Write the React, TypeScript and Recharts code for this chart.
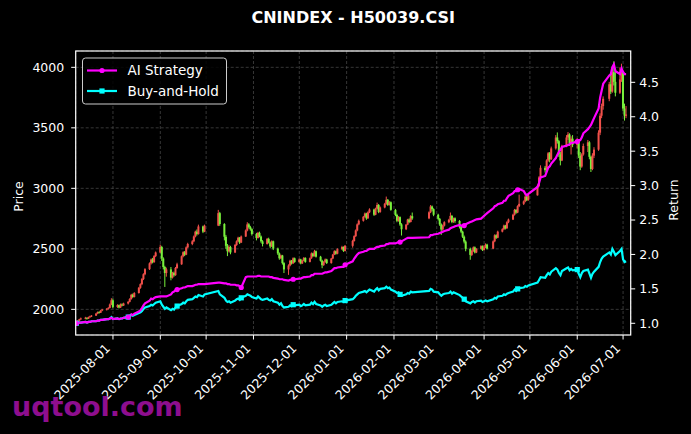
import React from 'react';
import { ComposedChart, Bar, Line, XAxis, YAxis, CartesianGrid } from 'recharts';

// one row per trading day: [day of month, open, high, low, close, AI strategy, buy-and-hold]
type Row = [number, number, number, number, number, number, number];

const jul25: Row[] = [
  [8, 1890, 1905, 1885, 1898, 1.0, 1.0], [9, 1898, 1912, 1893, 1905, 1.0, 1.0],
  [10, 1905, 1922, 1900, 1918, 1.01, 1.01], [11, 1918, 1932, 1912, 1925, 1.01, 1.01],
  [14, 1925, 1938, 1918, 1930, 1.02, 1.02], [15, 1930, 1934, 1915, 1922, 1.01, 1.01],
  [16, 1922, 1940, 1920, 1935, 1.02, 1.02], [17, 1935, 1948, 1930, 1942, 1.02, 1.02],
  [18, 1942, 1952, 1936, 1948, 1.03, 1.03], [21, 1948, 1970, 1945, 1965, 1.03, 1.03],
  [22, 1965, 1982, 1960, 1978, 1.04, 1.04], [23, 1978, 1985, 1965, 1972, 1.04, 1.04],
  [24, 1972, 1995, 1970, 1990, 1.05, 1.05], [25, 1990, 2004, 1985, 1998, 1.05, 1.05],
  [28, 1998, 2010, 1990, 2005, 1.06, 1.06], [29, 2005, 2018, 1998, 2012, 1.06, 1.06],
  [30, 2012, 2048, 2008, 2040, 1.07, 1.07], [31, 2040, 2092, 2035, 2075, 1.08, 1.09],
];
const aug25: Row[] = [
  [1, 2075, 2088, 2010, 2020, 1.06, 1.06], [4, 2020, 2042, 2012, 2035, 1.07, 1.07],
  [5, 2035, 2040, 2008, 2015, 1.06, 1.06], [6, 2015, 2048, 2012, 2040, 1.07, 1.07],
  [7, 2040, 2050, 2025, 2032, 1.07, 1.07], [8, 2032, 2055, 2028, 2048, 1.08, 1.08],
  [11, 2048, 2068, 2040, 2062, 1.09, 1.09], [12, 2062, 2092, 2058, 2085, 1.11, 1.1],
  [13, 2085, 2128, 2080, 2120, 1.13, 1.12], [14, 2120, 2130, 2095, 2102, 1.12, 1.11],
  [15, 2102, 2142, 2098, 2135, 1.14, 1.12], [18, 2135, 2185, 2130, 2178, 1.17, 1.15],
  [19, 2178, 2215, 2170, 2208, 1.19, 1.16], [20, 2208, 2258, 2200, 2250, 1.22, 1.18],
  [21, 2250, 2298, 2242, 2290, 1.26, 1.21], [22, 2290, 2340, 2282, 2332, 1.29, 1.23],
  [25, 2332, 2388, 2325, 2380, 1.33, 1.25], [26, 2380, 2420, 2370, 2412, 1.36, 1.27],
  [27, 2412, 2425, 2380, 2390, 1.35, 1.26], [28, 2390, 2448, 2385, 2440, 1.37, 1.28],
  [29, 2440, 2478, 2432, 2470, 1.38, 1.3],
];
const sep25: Row[] = [
  [1, 2470, 2535, 2465, 2515, 1.39, 1.32], [2, 2515, 2525, 2400, 2420, 1.39, 1.27],
  [3, 2420, 2430, 2330, 2350, 1.39, 1.24], [4, 2350, 2360, 2185, 2300, 1.39, 1.21],
  [5, 2300, 2345, 2270, 2330, 1.39, 1.23], [8, 2330, 2350, 2240, 2262, 1.42, 1.19],
  [9, 2262, 2310, 2255, 2302, 1.45, 1.21], [10, 2302, 2312, 2270, 2282, 1.46, 1.2],
  [11, 2282, 2350, 2278, 2342, 1.48, 1.23], [12, 2342, 2385, 2335, 2372, 1.49, 1.25],
  [15, 2372, 2445, 2368, 2438, 1.51, 1.28], [16, 2438, 2480, 2430, 2472, 1.52, 1.3],
  [17, 2472, 2482, 2440, 2452, 1.52, 1.29], [18, 2452, 2520, 2448, 2512, 1.53, 1.32],
  [19, 2512, 2550, 2505, 2540, 1.54, 1.34], [22, 2540, 2572, 2530, 2562, 1.54, 1.35],
  [23, 2562, 2610, 2555, 2602, 1.55, 1.37], [24, 2602, 2650, 2595, 2642, 1.56, 1.39],
  [25, 2642, 2660, 2610, 2622, 1.56, 1.38], [26, 2622, 2700, 2618, 2685, 1.57, 1.41],
  [29, 2685, 2692, 2630, 2642, 1.57, 1.39], [30, 2642, 2700, 2638, 2692, 1.57, 1.42],
];
const oct25: Row[] = [
  [9, 2692, 2822, 2688, 2795, 1.59, 1.47], [10, 2795, 2805, 2690, 2705, 1.59, 1.42],
  [13, 2705, 2712, 2570, 2600, 1.58, 1.37], [14, 2600, 2615, 2500, 2525, 1.58, 1.33],
  [15, 2525, 2540, 2440, 2480, 1.57, 1.31], [16, 2480, 2530, 2470, 2515, 1.57, 1.32],
  [17, 2515, 2525, 2455, 2470, 1.56, 1.3], [20, 2470, 2540, 2465, 2532, 1.56, 1.33],
  [21, 2532, 2570, 2525, 2562, 1.55, 1.35], [22, 2562, 2600, 2555, 2592, 1.55, 1.36],
  [23, 2592, 2598, 2540, 2552, 1.54, 1.34], [24, 2552, 2610, 2548, 2602, 1.52, 1.37],
  [27, 2602, 2660, 2598, 2652, 1.67, 1.4], [28, 2652, 2720, 2645, 2702, 1.68, 1.42],
  [29, 2702, 2712, 2668, 2680, 1.68, 1.41], [30, 2680, 2690, 2650, 2662, 1.68, 1.4],
  [31, 2662, 2670, 2610, 2622, 1.68, 1.38],
];
const nov25: Row[] = [
  [3, 2622, 2632, 2570, 2590, 1.68, 1.36], [4, 2590, 2640, 2585, 2632, 1.69, 1.39],
  [5, 2632, 2642, 2595, 2602, 1.69, 1.37], [6, 2602, 2610, 2550, 2562, 1.68, 1.35],
  [7, 2562, 2572, 2520, 2540, 1.68, 1.34], [10, 2540, 2590, 2535, 2582, 1.68, 1.36],
  [11, 2582, 2592, 2545, 2552, 1.68, 1.34], [12, 2552, 2560, 2505, 2520, 1.67, 1.33],
  [13, 2520, 2570, 2515, 2562, 1.67, 1.35], [14, 2562, 2568, 2490, 2502, 1.66, 1.32],
  [17, 2502, 2510, 2450, 2462, 1.65, 1.3], [18, 2462, 2470, 2410, 2422, 1.64, 1.27],
  [19, 2422, 2452, 2415, 2445, 1.64, 1.29], [20, 2445, 2450, 2370, 2382, 1.64, 1.25],
  [21, 2382, 2390, 2300, 2330, 1.63, 1.23], [24, 2330, 2372, 2285, 2362, 1.62, 1.24],
  [25, 2362, 2410, 2355, 2402, 1.63, 1.26], [26, 2402, 2408, 2370, 2380, 1.63, 1.25],
  [27, 2380, 2430, 2375, 2422, 1.64, 1.27], [28, 2422, 2428, 2385, 2392, 1.64, 1.26],
];
const dec25: Row[] = [
  [1, 2392, 2420, 2385, 2412, 1.65, 1.27], [2, 2412, 2418, 2372, 2380, 1.65, 1.25],
  [3, 2380, 2410, 2375, 2402, 1.66, 1.26], [4, 2402, 2432, 2398, 2425, 1.67, 1.28],
  [5, 2425, 2430, 2385, 2392, 1.67, 1.26], [8, 2392, 2428, 2388, 2422, 1.68, 1.27],
  [9, 2422, 2470, 2418, 2462, 1.7, 1.3], [10, 2462, 2468, 2432, 2440, 1.7, 1.28],
  [11, 2440, 2492, 2436, 2480, 1.72, 1.31], [12, 2480, 2486, 2428, 2435, 1.72, 1.28],
  [15, 2435, 2442, 2395, 2402, 1.72, 1.26], [16, 2402, 2410, 2340, 2365, 1.72, 1.24],
  [17, 2365, 2398, 2360, 2392, 1.73, 1.26], [18, 2392, 2420, 2385, 2412, 1.74, 1.27],
  [19, 2412, 2418, 2375, 2382, 1.74, 1.25], [22, 2382, 2425, 2378, 2420, 1.76, 1.27],
  [23, 2420, 2458, 2415, 2452, 1.78, 1.29], [24, 2452, 2488, 2448, 2480, 1.8, 1.31],
  [25, 2480, 2486, 2452, 2460, 1.8, 1.29], [26, 2460, 2505, 2455, 2498, 1.81, 1.31],
  [29, 2498, 2525, 2490, 2515, 1.82, 1.32], [30, 2515, 2520, 2475, 2482, 1.82, 1.31],
  [31, 2482, 2532, 2478, 2525, 1.85, 1.33],
];
const jan26: Row[] = [
  [5, 2525, 2575, 2510, 2565, 1.9, 1.35], [6, 2565, 2612, 2560, 2605, 1.94, 1.37],
  [7, 2605, 2660, 2598, 2652, 1.97, 1.4], [8, 2652, 2710, 2645, 2702, 2.0, 1.42],
  [9, 2702, 2742, 2695, 2732, 2.02, 1.44], [12, 2732, 2772, 2725, 2765, 2.04, 1.46],
  [13, 2765, 2800, 2758, 2792, 2.05, 1.47], [14, 2792, 2798, 2740, 2752, 2.05, 1.45],
  [15, 2752, 2810, 2748, 2802, 2.07, 1.47], [16, 2802, 2835, 2795, 2825, 2.08, 1.49],
  [19, 2825, 2832, 2772, 2782, 2.08, 1.46], [20, 2782, 2840, 2778, 2832, 2.1, 1.49],
  [21, 2832, 2882, 2825, 2862, 2.11, 1.51], [22, 2862, 2870, 2795, 2805, 2.11, 1.48],
  [23, 2805, 2850, 2798, 2842, 2.12, 1.5], [26, 2842, 2880, 2835, 2872, 2.13, 1.51],
  [27, 2872, 2932, 2865, 2905, 2.15, 1.53], [28, 2905, 2912, 2855, 2862, 2.15, 1.51],
  [29, 2862, 2895, 2858, 2885, 2.16, 1.52], [30, 2885, 2892, 2815, 2822, 2.16, 1.49],
];
const feb26: Row[] = [
  [2, 2822, 2830, 2770, 2780, 2.16, 1.46], [3, 2780, 2790, 2720, 2732, 2.17, 1.44],
  [4, 2732, 2770, 2725, 2762, 2.18, 1.45], [5, 2762, 2768, 2690, 2702, 2.18, 1.42],
  [6, 2702, 2712, 2610, 2662, 2.19, 1.4], [9, 2662, 2705, 2655, 2700, 2.23, 1.42],
  [10, 2700, 2748, 2695, 2742, 2.24, 1.44], [11, 2742, 2752, 2712, 2722, 2.24, 1.43],
  [12, 2722, 2778, 2718, 2770, 2.24, 1.46], [13, 2770, 2800, 2740, 2752, 2.24, 1.45],
  [24, 2752, 2810, 2745, 2802, 2.25, 1.47], [25, 2802, 2862, 2795, 2850, 2.28, 1.5],
  [26, 2850, 2858, 2810, 2828, 2.28, 1.49], [27, 2828, 2835, 2770, 2782, 2.29, 1.46],
];
const mar26: Row[] = [
  [2, 2782, 2790, 2735, 2748, 2.3, 1.45], [3, 2748, 2755, 2690, 2702, 2.31, 1.42],
  [4, 2702, 2710, 2615, 2660, 2.32, 1.4], [5, 2660, 2700, 2650, 2692, 2.33, 1.42],
  [6, 2692, 2728, 2685, 2720, 2.34, 1.43], [9, 2720, 2748, 2712, 2740, 2.36, 1.44],
  [10, 2740, 2800, 2735, 2772, 2.38, 1.46], [11, 2772, 2780, 2712, 2722, 2.39, 1.43],
  [12, 2722, 2758, 2715, 2752, 2.4, 1.45], [13, 2752, 2760, 2715, 2730, 2.41, 1.44],
  [16, 2730, 2738, 2668, 2680, 2.43, 1.41], [17, 2680, 2690, 2630, 2642, 2.42, 1.39],
  [18, 2642, 2650, 2590, 2600, 2.41, 1.37], [19, 2600, 2610, 2545, 2560, 2.42, 1.35],
  [20, 2560, 2570, 2480, 2500, 2.44, 1.32], [23, 2500, 2510, 2410, 2450, 2.47, 1.29],
  [24, 2450, 2490, 2440, 2482, 2.48, 1.31], [25, 2482, 2520, 2475, 2512, 2.49, 1.32],
  [26, 2512, 2520, 2462, 2470, 2.5, 1.3], [27, 2470, 2505, 2465, 2500, 2.51, 1.32],
  [30, 2500, 2530, 2495, 2522, 2.52, 1.33], [31, 2522, 2528, 2482, 2490, 2.54, 1.31],
];
const apr26: Row[] = [
  [1, 2490, 2530, 2485, 2512, 2.56, 1.32], [2, 2512, 2545, 2505, 2535, 2.58, 1.33],
  [3, 2535, 2542, 2495, 2502, 2.6, 1.32], [7, 2502, 2570, 2498, 2562, 2.67, 1.35],
  [8, 2562, 2620, 2555, 2612, 2.7, 1.37], [9, 2612, 2620, 2582, 2592, 2.71, 1.36],
  [10, 2592, 2650, 2588, 2642, 2.73, 1.39], [13, 2642, 2670, 2636, 2662, 2.75, 1.4],
  [14, 2662, 2700, 2655, 2692, 2.78, 1.42], [15, 2692, 2698, 2660, 2670, 2.78, 1.41],
  [16, 2670, 2728, 2665, 2720, 2.82, 1.43], [17, 2720, 2750, 2712, 2742, 2.85, 1.44],
  [20, 2742, 2790, 2738, 2782, 2.89, 1.46], [21, 2782, 2830, 2775, 2822, 2.92, 1.49],
  [22, 2822, 2828, 2790, 2800, 2.92, 1.47], [23, 2800, 2860, 2795, 2852, 2.94, 1.5],
  [24, 2852, 2948, 2845, 2872, 2.95, 1.51], [27, 2872, 2900, 2862, 2892, 2.92, 1.52],
  [28, 2892, 2960, 2885, 2932, 2.88, 1.54], [29, 2932, 2940, 2895, 2902, 2.86, 1.53],
  [30, 2902, 2950, 2898, 2942, 2.88, 1.55],
];
const may26: Row[] = [
  [6, 2942, 3030, 2940, 3020, 2.98, 1.59], [7, 3020, 3100, 3010, 3090, 3.04, 1.63],
  [8, 3090, 3190, 3080, 3170, 3.12, 1.67], [11, 3170, 3185, 3130, 3150, 3.14, 1.66],
  [12, 3150, 3240, 3145, 3230, 3.2, 1.7], [13, 3230, 3300, 3220, 3290, 3.26, 1.73],
  [14, 3290, 3300, 3215, 3240, 3.28, 1.71], [15, 3240, 3345, 3235, 3330, 3.32, 1.75],
  [18, 3330, 3440, 3320, 3420, 3.4, 1.8], [19, 3420, 3462, 3370, 3390, 3.45, 1.78],
  [20, 3390, 3400, 3260, 3280, 3.49, 1.73], [21, 3280, 3300, 3190, 3230, 3.52, 1.7],
  [22, 3230, 3360, 3225, 3350, 3.56, 1.76], [25, 3350, 3440, 3340, 3420, 3.58, 1.8],
  [26, 3420, 3465, 3400, 3445, 3.59, 1.81], [27, 3445, 3455, 3350, 3370, 3.6, 1.77],
  [28, 3370, 3430, 3280, 3410, 3.62, 1.79], [29, 3410, 3440, 3340, 3360, 3.62, 1.77],
];
const jun26: Row[] = [
  [1, 3360, 3415, 3330, 3390, 3.64, 1.78], [2, 3390, 3400, 3250, 3270, 3.66, 1.72],
  [3, 3270, 3300, 3150, 3180, 3.66, 1.67], [4, 3180, 3290, 3170, 3280, 3.7, 1.73],
  [5, 3280, 3370, 3270, 3350, 3.76, 1.76], [8, 3350, 3400, 3300, 3380, 3.82, 1.78],
  [9, 3380, 3390, 3240, 3260, 3.85, 1.72], [10, 3260, 3270, 3135, 3160, 3.88, 1.66],
  [11, 3160, 3290, 3150, 3270, 3.93, 1.72], [12, 3270, 3340, 3250, 3320, 3.98, 1.75],
  [15, 3320, 3480, 3310, 3460, 4.12, 1.82], [16, 3460, 3620, 3440, 3600, 4.28, 1.89],
  [17, 3600, 3700, 3580, 3680, 4.38, 1.94], [18, 3680, 3760, 3650, 3740, 4.48, 1.97],
  [22, 3740, 3880, 3720, 3860, 4.6, 2.03], [23, 3860, 3940, 3780, 3800, 4.62, 2.0],
  [24, 3800, 4000, 3790, 3960, 4.72, 2.08], [25, 3960, 4050, 3850, 3880, 4.76, 2.04],
  [26, 3880, 3960, 3760, 3790, 4.66, 1.99], [29, 3790, 4000, 3780, 3900, 4.62, 2.05],
  [30, 3900, 4030, 3880, 3960, 4.7, 2.08],
];
const jul26: Row[] = [
  [1, 3960, 3970, 3640, 3660, 4.65, 1.93], [2, 3660, 3700, 3560, 3600, 4.62, 1.89],
  [3, 3600, 3680, 3580, 3610, 4.62, 1.9],
];

// day number (days since 2025-07-01) of the first of each month
const monthStarts = [0, 31, 62, 92, 123, 153, 184, 215, 243, 274, 304, 335, 365];
const monthRows = [jul25, aug25, sep25, oct25, nov25, dec25, jan26, feb26, mar26, apr26, may26, jun26, jul26];

const tickDays = monthStarts.slice(1);
const tickLabels = [
  '2025-08-01', '2025-09-01', '2025-10-01', '2025-11-01', '2025-12-01', '2026-01-01',
  '2026-02-01', '2026-03-01', '2026-04-01', '2026-05-01', '2026-06-01', '2026-07-01',
];
const priceTicks = [2000, 2500, 3000, 3500, 4000];
const returnTicks = [1.0, 1.5, 2.0, 2.5, 3.0, 3.5, 4.0, 4.5];

const data = monthRows.flatMap((rows, m) =>
  rows.map(([dom, open, high, low, close, ai, bh]) => ({
    t: monthStarts[m] + dom - 1,
    open, high, low, close,
    range: [low, high],
    ai, bh,
  }))
);

const FONT = 'DejaVu Sans';
const UP = '#f0504a';
const DOWN = '#78f03c';
const MAGENTA = '#ff00ff';
const CYAN = '#00ffff';

// plot box in page pixels
const PL = 75.7;
const PR = 630.7;
const PT = 51;
const PB = 335;

function Candle(props: any) {
  const { x, y, width, height, payload } = props;
  if (!payload || height == null) return <g />;
  const { open, close, high, low } = payload;
  const cx = x + width / 2;
  const span = high - low || 1;
  const toY = (v: number) => y + ((high - v) / span) * height;
  const color = close >= open ? UP : DOWN;
  const top = toY(Math.max(open, close));
  const bot = toY(Math.min(open, close));
  return (
    <g>
      <line x1={cx} x2={cx} y1={y} y2={y + height} stroke={color} strokeWidth={1} />
      <rect x={cx - 1} y={top} width={2} height={Math.max(bot - top, 0.8)} fill={color} />
    </g>
  );
}

const circleDot = (p: any) =>
  p.index % 24 === 0 ? (
    <circle key={`c${p.index}`} cx={p.cx} cy={p.cy} r={2.6} fill={MAGENTA} />
  ) : (
    <g key={`c${p.index}`} />
  );

const squareDot = (p: any) =>
  p.index % 24 === 0 ? (
    <rect key={`s${p.index}`} x={p.cx - 2.6} y={p.cy - 2.6} width={5.2} height={5.2} fill={CYAN} />
  ) : (
    <g key={`s${p.index}`} />
  );

function DateTick(props: any) {
  const { x, y, payload } = props;
  const label = tickLabels[tickDays.indexOf(payload.value)] ?? '';
  const px = x - 2;
  const py = y + 7.5;
  return (
    <text
      x={px}
      y={py}
      transform={`rotate(-45 ${px} ${py})`}
      textAnchor="end"
      fill="#ffffff"
      fontSize={12.5}
      fontFamily={FONT}
    >
      {label}
    </text>
  );
}

export default function App() {
  return (
    <div style={{ position: 'absolute', left: 0, top: 0, width: 691, height: 434, background: '#000' }}>
      <ComposedChart
        width={691}
        height={434}
        data={data}
        margin={{ top: PT, right: 691 - PR - 50, bottom: 434 - PB - 60, left: PL - 60 }}
      >
        <CartesianGrid
          yAxisId="p"
          stroke="#4d4d4d"
          strokeWidth={0.7}
          strokeDasharray="3 2"
        />
        <XAxis
          dataKey="t"
          type="number"
          domain={[6.6, 370]}
          allowDataOverflow
          ticks={tickDays}
          interval={0}
          height={60}
          axisLine={false}
          tickLine={{ stroke: '#ffffff' }}
          tickSize={4.5}
          tickMargin={2}
          tick={<DateTick />}
        />
        <YAxis
          yAxisId="p"
          orientation="left"
          width={60}
          domain={[1788, 4135]}
          allowDataOverflow
          ticks={priceTicks}
          axisLine={false}
          tickLine={{ stroke: '#ffffff' }}
          tickSize={4.5}
          tickMargin={7}
          tick={{ fill: '#ffffff', fontSize: 12.5, fontFamily: FONT }}
        />
        <YAxis
          yAxisId="r"
          orientation="right"
          width={50}
          domain={[0.83, 4.955]}
          allowDataOverflow
          ticks={returnTicks}
          tickFormatter={(v: number) => v.toFixed(1)}
          axisLine={false}
          tickLine={{ stroke: '#ffffff' }}
          tickSize={4.5}
          tickMargin={4}
          tick={{ fill: '#ffffff', fontSize: 12.5, fontFamily: FONT }}
        />
        <Bar yAxisId="p" dataKey="range" barSize={2} shape={<Candle />} isAnimationActive={false} />
        <Line
          yAxisId="r"
          type="linear"
          dataKey="bh"
          stroke={CYAN}
          strokeWidth={2.2}
          dot={squareDot}
          activeDot={false}
          isAnimationActive={false}
        />
        <Line
          yAxisId="r"
          type="linear"
          dataKey="ai"
          stroke={MAGENTA}
          strokeWidth={2.2}
          dot={circleDot}
          activeDot={false}
          isAnimationActive={false}
        />
      </ComposedChart>

      <svg
        width={691}
        height={434}
        style={{ position: 'absolute', left: 0, top: 0, pointerEvents: 'none' }}
      >
        <rect x={PL} y={PT} width={PR - PL} height={PB - PT} fill="none" stroke="#ffffff" strokeWidth={1.2} />
        <text x={(PL + PR) / 2} y={23} textAnchor="middle" fill="#ffffff" fontSize={16} fontWeight="bold" fontFamily={FONT}>
          CNINDEX - H50039.CSI
        </text>
        <text x={23} y={196.5} transform="rotate(-90 23 196.5)" textAnchor="middle" fill="#ffffff" fontSize={12.5} fontFamily={FONT}>
          Price
        </text>
        <text x={678} y={200} transform="rotate(-90 678 200)" textAnchor="middle" fill="#ffffff" fontSize={12.5} fontFamily={FONT}>
          Return
        </text>

        <g>
          <rect x={82.5} y={58} width={144} height={46} rx={3} fill="#000000" fillOpacity={0.85} stroke="#cccccc" strokeWidth={1} />
          <line x1={87} x2={117} y1={70.5} y2={70.5} stroke={MAGENTA} strokeWidth={2.2} />
          <circle cx={102} cy={70.5} r={2.6} fill={MAGENTA} />
          <text x={127.5} y={75.3} fill="#ffffff" fontSize={13.5} fontFamily={FONT}>AI Strategy</text>
          <line x1={87} x2={117} y1={91} y2={91} stroke={CYAN} strokeWidth={2.2} />
          <rect x={99.4} y={88.4} width={5.2} height={5.2} fill={CYAN} />
          <text x={127.5} y={95.8} fill="#ffffff" fontSize={13.5} fontFamily={FONT}>Buy-and-Hold</text>
        </g>

        <text x={12} y={416} fill="#8e0e8e" fontSize={27} fontWeight="bold" fontFamily={FONT}>
          uqtool.com
        </text>
      </svg>
    </div>
  );
}
